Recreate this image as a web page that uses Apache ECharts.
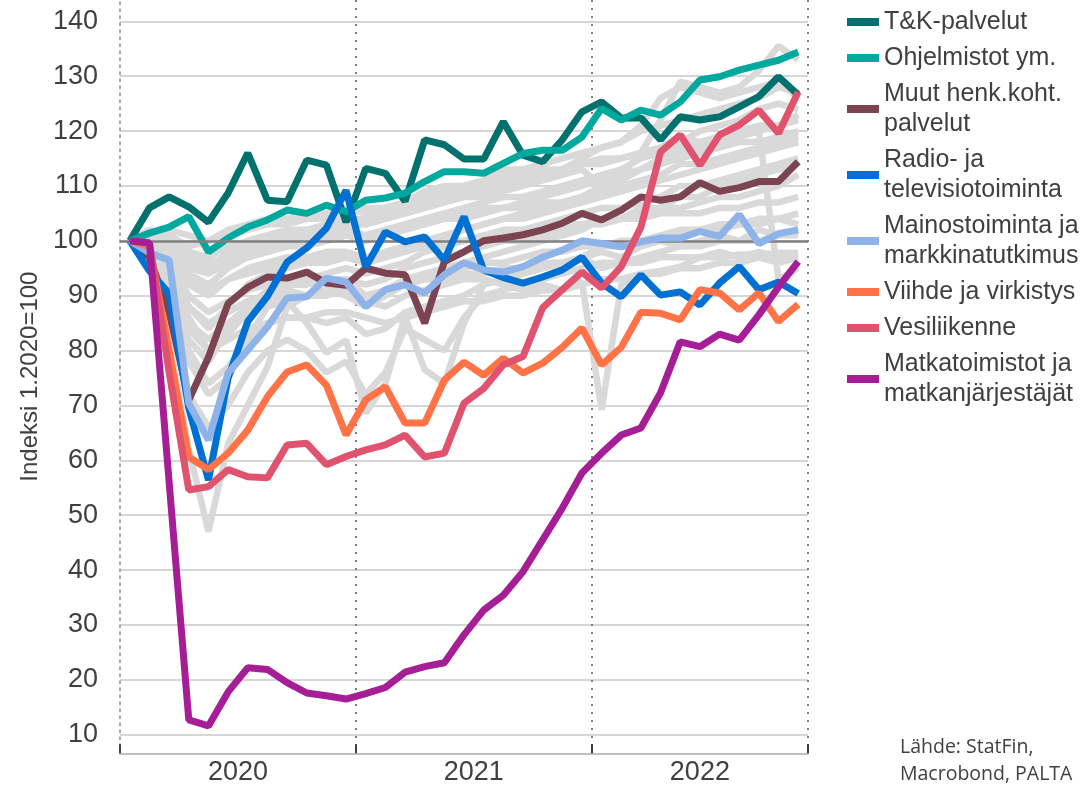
<!DOCTYPE html>
<html>
<head>
<meta charset="utf-8">
<script src="https://cdn.jsdelivr.net/npm/echarts@6/dist/echarts.min.js"></script>
<style>
  html, body { margin: 0; padding: 0; background: #fff; }
  #chart { width: 1086px; height: 789px; }
</style>
</head>
<body>
<div id="chart"></div>
<script>
// kuukaudet 1/2020 - 11/2022
var months = [
    '2020-01', '2020-02', '2020-03', '2020-04', '2020-05', '2020-06', '2020-07', '2020-08', '2020-09', '2020-10', '2020-11', '2020-12',
    '2021-01', '2021-02', '2021-03', '2021-04', '2021-05', '2021-06', '2021-07', '2021-08', '2021-09', '2021-10', '2021-11', '2021-12',
    '2022-01', '2022-02', '2022-03', '2022-04', '2022-05', '2022-06', '2022-07', '2022-08', '2022-09', '2022-10', '2022-11'
];
var yearLabels = { 5: '2020', 17: '2021', 29: '2022' };
var yTicks = [10, 20, 30, 40, 50, 60, 70, 80, 90, 100, 110, 120, 130, 140];

var tk = [100, 106, 108, 106.2, 103.4, 108.7, 116, 107.4, 107.1, 114.7, 113.8, 103.4, 113.2, 112.3, 107.2, 118.4, 117.5,
    114.9, 114.9, 121.7, 115.6, 114.4, 118.4, 123.5, 125.3, 122.4, 122.4, 118.4, 122.6, 122, 122.6, 124.4, 126.3, 129.9, 126.6];
var ohjelmistot = [100, 101.4, 102.5, 104.4, 98, 100.5, 102.5, 103.8, 105.6, 105, 106.5, 105.3, 107.4, 107.8, 108.7, 110.8, 112.6,
    112.6, 112.3, 114.1, 115.9, 116.5, 116.5, 118.9, 124.1, 122, 123.8, 122.9, 125.3, 129.3, 129.9, 131.1, 132, 132.9, 134.4];
var muut = [100, 97, 87, 71, 78.8, 88.6, 91.5, 93.4, 93.2, 94.3, 92.3, 91.9, 95, 94.1, 93.8, 85, 96.2,
    98, 100, 100.5, 101.1, 102, 103.2, 105, 103.8, 105.6, 108, 107.4, 108, 110.6, 109, 109.7, 110.8, 110.8, 114.4];
var radio = [100, 94.5, 90.4, 69.5, 56.4, 75, 85.3, 89.9, 96.1, 98.7, 102.3, 109.2, 95.2, 101.6, 99.8, 100.7, 96.5,
    104.4, 94.7, 93.3, 92.3, 93.4, 94.7, 97, 92.3, 89.8, 93.8, 90.1, 90.7, 88.3, 92.3, 95.3, 91.1, 92.5, 90.4];
var mainos = [100, 97.8, 96.5, 70.4, 63.7, 75.9, 80.1, 84.3, 89.6, 89.8, 93.2, 92.5, 88, 91.1, 92, 90.5, 93.8,
    96, 94.7, 94.3, 95.3, 97, 98.3, 100, 99.5, 98.9, 99.8, 100.5, 100.5, 101.7, 100.8, 104.8, 99.5, 101.3, 102];
var viihde = [100, 99, 80, 60.6, 58.3, 61.3, 65.5, 71.6, 76.1, 77.4, 73.7, 64.6, 71, 73.4, 66.8, 66.8, 74.6,
    77.9, 75.5, 78.6, 75.9, 77.7, 80.6, 84.1, 77.4, 80.6, 87, 86.8, 85.6, 91.1, 90.5, 87.4, 90.5, 85.3, 88.4];
var vesi = [100, 99.6, 76, 54.6, 55.2, 58.3, 57, 56.8, 62.8, 63.1, 59.2, 60.7, 61.9, 62.8, 64.6, 60.6, 61.3,
    70.4, 73.1, 77.4, 78.9, 87.8, 91.1, 94.3, 91.4, 95.3, 102.5, 116.2, 119.3, 113.8, 119.3, 121.1, 123.8, 119.6, 127.1];
var matka = [100, 99.6, 56, 12.7, 11.6, 17.8, 22.2, 21.9, 19.5, 17.6, 17.1, 16.5, 17.5, 18.6, 21.4, 22.4, 23.1,
    28.2, 32.7, 35.4, 39.7, 45.5, 51.3, 57.7, 61.3, 64.6, 65.9, 72.3, 81.6, 80.7, 83, 81.9, 86.5, 91.6, 96.2];

// muut toimialat (harmaat)
var g01 = [100, 98, 82, 62, 47, 63, 70, 77, 88, 90, 91, 90, 88, 90, 92, 93, 94, 95, 96, 96, 97, 98, 98, 99, 99, 100, 100, 101, 101, 102, 102, 103, 103, 104, 103];
var g02 = [100, 97, 90, 78, 72, 75, 82, 88, 89, 85, 79.6, 81.9, 68.6, 74, 86.2, 76.5, 74, 85, 92, 93, 94, 95, 96, 97, 98, 97, 99, 100, 99, 100, 101, 100, 102, 101, 102];
var g03 = [100, 99, 95, 88, 85, 87, 89, 90, 91, 90, 90, 91, 89, 88, 90, 91, 92, 93, 93, 92, 91, 92, 91, 92.5, 69.2, 92, 94, 94.5, 95.3, 97, 97, 97.5, 97.5, 97.8, 97.8];
var g04 = [100, 100, 97, 92, 90, 93, 95, 96, 97, 97, 98, 98, 97, 98, 99, 100, 101, 102, 103, 104, 105, 106, 107, 108, 110, 111, 113, 115, 116, 117, 118, 119, 120, 93, 95];
var g05 = [100, 101, 100, 96, 95, 98, 100, 101, 102, 101, 102, 103, 103, 104, 105, 106, 107, 108, 108, 109, 110, 111, 112, 113, 110, 112, 116, 122, 129, 128, 127, 128, 131, 135.5, 133];
var g06 = [100, 102, 101, 99, 100, 101, 102, 103, 103, 104, 104, 105, 106, 106, 107, 109, 110, 110, 111, 113, 113, 114, 115, 116, 117, 118, 120, 121, 122, 123, 124, 125, 126, 128, 127];
var g07 = [100, 101, 99, 94, 92, 95, 97, 98, 99, 99, 100, 101, 101, 102, 103, 104, 105, 106, 107, 108, 108, 109, 110, 111, 112, 113, 115, 116, 117, 118, 119, 119, 120, 121, 122];
var g08 = [100, 99, 96, 88, 84, 88, 92, 94, 95, 96, 97, 97, 96, 98, 99, 100, 101, 102, 103, 104, 104, 105, 106, 107, 108, 109, 110, 111, 112, 113, 114, 115, 116, 117, 118];
var g09 = [100, 98, 93, 82, 78, 84, 88, 90, 92, 93, 94, 95, 94, 95, 96, 98, 99, 100, 101, 102, 102, 103, 104, 105, 106, 106, 107, 108, 110, 110, 111, 112, 113, 114, 115];
var g10 = [100, 99, 95, 86, 80, 83, 87, 89, 90, 90, 91, 91, 90, 91, 93, 94, 95, 96, 97, 98, 99, 100, 101, 102, 104, 104, 105, 106, 106, 107, 108, 108, 109, 110, 112];
var g11 = [100, 100, 98, 95, 94, 96, 97, 98, 99, 100, 100, 101, 100, 101, 102, 103, 104, 104, 105, 106, 106, 107, 107, 108, 109, 110, 111, 112, 114, 114, 115, 116, 117, 118, 119];
var g12 = [100, 98, 92, 80, 74, 77, 82, 85, 86, 86, 85, 86, 83, 84, 87, 88, 89, 90, 92, 93, 94, 95, 96, 97, 99, 99, 100, 101, 102, 102, 103, 103, 104, 104, 105];
var g13 = [100, 97, 88, 72, 66, 70, 76, 80, 82, 80, 76, 78, 72, 76, 84, 82, 80, 86, 90, 91, 92, 93, 94, 95, 96, 96, 97, 98, 99, 99, 100, 100, 100, 101, 101];
var g14 = [100, 99, 96, 90, 87, 89, 91, 92, 93, 93, 92, 93, 90, 91, 92, 93, 93, 94, 94, 95, 95, 96, 96, 97, 95, 96, 96, 97, 97, 97, 98, 97, 98, 97, 97];
var g15 = [100, 101, 102, 101, 100, 102, 103, 104, 104, 105, 105, 106, 105, 106, 107, 108, 109, 110, 111, 112, 112, 113, 113, 114, 115, 115, 116, 117, 118, 120, 121, 122, 124, 125, 124];
var g16 = [100, 99, 97, 93, 91, 93, 94, 95, 96, 96, 96, 97, 96, 97, 98, 99, 100, 100, 101, 101, 102, 102, 103, 103, 104, 104, 104, 105, 105, 105, 106, 106, 107, 107, 108];
var g17 = [100, 98, 94, 85, 82, 85, 88, 91, 92, 92, 93, 93, 92, 93, 95, 96, 97, 98, 99, 100, 100, 101, 102, 103, 103, 104, 106, 106, 108, 108, 110, 111, 112, 113, 114];
var g18 = [100, 100, 99, 97, 96, 97, 98, 99, 100, 100, 101, 102, 101, 102, 103, 104, 105, 105, 106, 106, 107, 108, 109, 110, 111, 112, 113, 114, 115, 116, 117, 118, 118, 119, 120];
var g19 = [100, 98, 93, 84, 80, 82, 84, 85, 86, 86, 87, 87, 86, 85, 86, 87, 88, 89, 89, 90, 90, 91, 91, 92, 93, 93, 94, 94, 95, 95, 96, 96, 97, 96, 97];
var g20 = [100, 100, 99, 96, 95, 97, 99, 100, 101, 101, 102, 103, 103, 104, 105, 106, 107, 108, 109, 110, 111, 112, 113, 115, 117, 118, 121, 126, 128, 127, 126, 127, 128, 129, 126];
var g21 = [100, 101, 100, 98, 97, 99, 100, 101, 102, 102, 103, 104, 104, 105, 106, 107, 108, 109, 110, 111, 112, 112, 113, 114, 114, 115, 116, 117, 119, 118, 119, 120, 121, 121, 123];
var grayLines = [g01, g02, g03, g04, g05, g06, g07, g08, g09, g10, g11, g12, g13, g14, g15, g16, g17, g18, g19, g20, g21];

var names = ['T&K-palvelut', 'Ohjelmistot ym.', 'Muut henk.koht.\npalvelut', 'Radio- ja\ntelevisiotoiminta',
    'Mainostoiminta ja\nmarkkinatutkimus', 'Viihde ja virkistys', 'Vesiliikenne', 'Matkatoimistot ja\nmatkanjärjestäjät'];
var values = [tk, ohjelmistot, muut, radio, mainos, viihde, vesi, matka];
var colors = ['#00716C', '#00A99D', '#7C4352', '#0070D2', '#8DB3E8', '#FF7347', '#E0536F', '#A61E96'];

var font = '"Liberation Sans", Arial, sans-serif';
var textColor = '#404040';

var series = [];
grayLines.forEach(function (d, i) {
    var s = {
        type: 'line',
        data: d,
        showSymbol: false,
        silent: true,
        lineStyle: { color: '#D9D9D9', width: 6.5 },
        itemStyle: { color: '#D9D9D9' },
        z: 2
    };
    if (i === grayLines.length - 1) {
        s.markLine = {
            silent: true,
            symbol: 'none',
            label: { show: false },
            lineStyle: { color: '#808080', width: 2.5, type: 'solid' },
            data: [{ yAxis: 100 }]
        };
    }
    series.push(s);
});
names.forEach(function (n, i) {
    series.push({
        name: n,
        type: 'line',
        data: values[i],
        showSymbol: false,
        lineStyle: { color: colors[i], width: 7 },
        itemStyle: { color: colors[i] },
        z: 3 + i
    });
});

var chart = echarts.init(document.getElementById('chart'));
chart.setOption({
    animation: false,
    backgroundColor: '#fff',
    title: {
        text: 'Lähde: StatFin,\nMacrobond, PALTA',
        left: 895,
        top: 729,
        textStyle: {
            fontFamily: '"Open Sans", sans-serif',
            fontSize: 19.5,
            fontWeight: 'normal',
            lineHeight: 27,
            color: textColor
        }
    },
    legend: {
        data: names,
        orient: 'vertical',
        left: 842,
        top: 2,
        icon: 'rect',
        itemWidth: 32,
        itemHeight: 8,
        itemGap: 6,
        selectedMode: false,
        textStyle: { fontFamily: font, fontSize: 25, lineHeight: 30, color: textColor }
    },
    grid: { left: 120, right: 278, top: 0, bottom: 35.7, containLabel: false },
    xAxis: {
        type: 'category',
        data: months,
        boundaryGap: true,
        axisLine: { lineStyle: { color: '#BFBFBF', width: 2 } },
        axisTick: {
            show: true,
            inside: true,
            length: 9,
            interval: function (i) { return i % 12 === 0; },
            lineStyle: { color: textColor, width: 2 }
        },
        splitLine: {
            show: true,
            interval: function (i) { return i % 12 === 0 && i > 0; },
            lineStyle: { color: '#808080', width: 2, type: [2, 6] }
        },
        axisLabel: {
            interval: 0,
            margin: 6,
            fontFamily: font,
            fontSize: 27,
            color: textColor,
            formatter: function (v, i) {
                if (!yearLabels[i]) return '';
                return i === 29 ? yearLabels[i] : '{s|' + yearLabels[i] + '}';
            },
            rich: {
                s: { padding: [0, 0, 0, 19.7], fontFamily: font, fontSize: 27, color: textColor }
            }
        }
    },
    yAxis: {
        type: 'value',
        min: 6.61,
        max: 143.88,
        name: 'Indeksi 1.2020=100',
        nameLocation: 'middle',
        nameGap: 78,
        nameTextStyle: { fontFamily: font, fontSize: 24, color: textColor },
        axisLine: { show: true, lineStyle: { color: '#A6A6A6', width: 2, type: [2, 5] } },
        axisTick: { show: false, customValues: yTicks },
        axisLabel: { customValues: yTicks, margin: 22, fontFamily: font, fontSize: 27, color: textColor },
        splitLine: { show: true, lineStyle: { color: '#C9C9C9', width: 1.5 } }
    },
    series: series
});
</script>
</body>
</html>
